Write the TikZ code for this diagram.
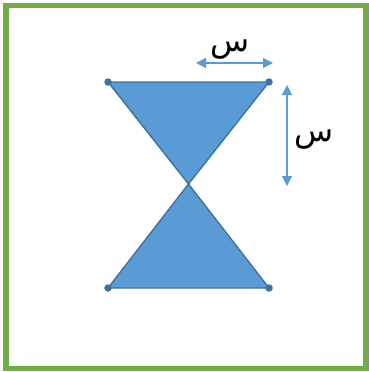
\documentclass[tikz,border=0pt]{standalone}
\usepackage{fontspec}
\TeXXeTstate=1
\newfontfamily\arabicfont[Script=Arabic]{DejaVu Sans}
\usetikzlibrary{arrows.meta}
\definecolor{fillblue}{HTML}{5B9BD5}
\definecolor{edgeblue}{HTML}{41719C}
\definecolor{framegreen}{HTML}{70AD47}
\tikzset{
  tri/.style={fill=fillblue, draw=edgeblue, line width=1.4pt, line join=miter},
  dot/.style={circle, fill=edgeblue, inner sep=0pt, minimum size=7.5pt},
  dim/.style={draw=fillblue, line width=1.3pt, {Triangle[width=10pt,length=10pt]}-{Triangle[width=10pt,length=10pt]}},
  lbl/.style={font=\arabicfont\fontsize{32}{36}\selectfont, inner sep=0pt}
}
\begin{document}
\begin{tikzpicture}[x=1pt,y=-1pt]
\useasboundingbox (0,0) rectangle (369,372);
\draw[framegreen, line width=5.5pt] (6,5.5) rectangle (366,368.5);
\coordinate (tl) at (108,82);
\coordinate (tr) at (269,82);
\coordinate (c) at (188.5,184);
\coordinate (bl) at (108,288);
\coordinate (br) at (269,288);
\draw[tri] (tl) -- (tr) -- (c) -- cycle;
\draw[tri] (bl) -- (br) -- (c) -- cycle;
\node[dot] (dtl) at (tl) {};
\node[dot] (dtr) at (tr) {};
\node[dot] (dbl) at (bl) {};
\node[dot] (dbr) at (br) {};
\coordinate (h1) at (196,63);
\coordinate (h2) at (273,63);
\draw[dim] (h1) -- (h2);
\coordinate (v1) at (287,85);
\coordinate (v2) at (287,186);
\draw[dim] (v1) -- (v2);
\node[lbl] (s1) at (230,50) {\beginR س\endR};
\node[lbl] (s2) at (314,140) {\beginR س\endR};
\end{tikzpicture}
\end{document}
